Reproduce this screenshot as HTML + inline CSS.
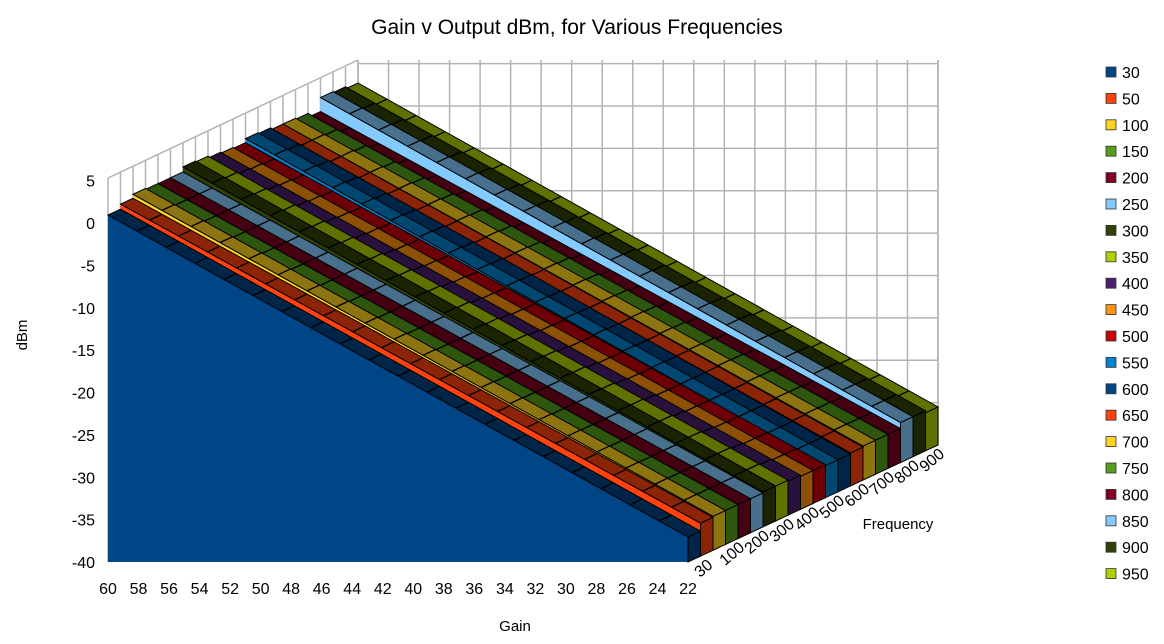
<!DOCTYPE html>
<html><head><meta charset="utf-8"><style>
body{margin:0;background:#fff;}
svg{display:block;font-family:"Liberation Sans",sans-serif;}
</style></head><body>
<svg id="s" width="1164" height="644" xmlns="http://www.w3.org/2000/svg"></svg>
<script>
const s=document.getElementById('s');
let h='';
const DX=12.5,DY=-5.85,X0=108,XR=688,YB=562;
const cols=['#004586','#ff420e','#ffd320','#579d1c','#7e0021','#83caff','#314004','#aecf00','#4b1f6f','#ff950e','#c5000b','#0084d1','#004586','#ff420e','#ffd320','#579d1c','#7e0021','#83caff','#314004','#aecf00'];
const names=[30,50,100,150,200,250,300,350,400,450,500,550,600,650,700,750,800,850,900,950];
const offL=[0,5,9,8,8,8,13,12,10,9,8,12,11,9,9,8,4,18,17,15];
const offR=[0,8,9,9,9,9,10,10,9,8,8,7,7,8,9,9,9,15,15,13];
function dark(c,f){let n=parseInt(c.slice(1),16);let r=(n>>16)&255,g=(n>>8)&255,b=n&255;return `rgb(${r*f|0},${g*f|0},${b*f|0})`;}
// walls
const g='#b3b3b3';
const BX=X0+20*DX, BY=DY*20; // back offset
// back wall
for(let k=0;k<=19;k++){let x=BX+k*(XR-X0)/19;h+=`<line x1="${x}" y1="60" x2="${x}" y2="${YB+BY}" stroke="${g}" stroke-width="1.5"/>`;}
for(let v=5;v>=-40;v-=5){let y=223-v*8.475+BY;if(y<58)y=60;h+=`<line x1="${BX}" y1="${y}" x2="${BX+XR-X0}" y2="${y}" stroke="${g}" stroke-width="1.5"/>`;}
// left wall
for(let k=0;k<=20;k++){let x=X0+k*DX;h+=`<line x1="${x}" y1="${178+k*DY}" x2="${x}" y2="${YB+k*DY}" stroke="${g}" stroke-width="1.5"/>`;}
h+=`<line x1="${X0}" y1="178" x2="${BX}" y2="60" stroke="${g}" stroke-width="1.5"/>`;
h+=`<line x1="${BX+XR-X0}" y1="60" x2="${BX+XR-X0}" y2="${YB+BY}" stroke="${g}" stroke-width="1.5"/>`;
// bars back to front
for(let i=19;i>=0;i--){
 const c=cols[i];const xl=X0+i*DX,xr=XR+i*DX,yb=YB+i*DY;
 const yl=215+i*DY-offL[i],yr=537+i*DY-offR[i];
 const tc=dark(c,0.55),sc=dark(c,0.8);
 h+=`<polygon points="${xr},${yr} ${xr+DX},${yr+DY} ${xr+DX},${yb+DY} ${xr},${yb}" fill="${tc}" stroke="#000" stroke-width="1"/>`;
 h+=`<polygon points="${xl},${yl} ${xr},${yr} ${xr},${yb} ${xl},${yb}" fill="${c}"/>`;
 // segment lines on front face
 h+=`<polygon points="${xl},${yl} ${xr},${yr} ${xr+DX},${yr+DY} ${xl+DX},${yl+DY}" fill="${tc}" stroke="#000" stroke-width="1"/>`;
 for(let k=1;k<20;k++){let t=k/20,x=xl+(xr-xl)*t,y=yl+(yr-yl)*t;h+=`<line x1="${x}" y1="${y}" x2="${x+DX}" y2="${y+DY}" stroke="#000" stroke-width="1.3"/>`;}
 h+=`<line x1="${xr}" y1="${yr}" x2="${xr}" y2="${yb}" stroke="#000" stroke-width="1"/>`;
 h+=`<line x1="${xl}" y1="${yl}" x2="${xr}" y2="${yr}" stroke="#000" stroke-width="0.8"/>`;
}
// axis labels
for(let v=5;v>=-40;v-=5){h+=`<text x="95" y="${223-v*8.475+6}" font-size="16" text-anchor="end">${v}</text>`;}
for(let k=0;k<20;k++){h+=`<text x="${X0+k*(XR-X0)/19}" y="594" font-size="16" text-anchor="middle">${60-2*k}</text>`;}
const fl=[30,100,200,300,400,500,600,700,800,900];
fl.forEach((f,j)=>{let i=j*2;let x=700+i*DX,y=578+i*DY;h+=`<text x="${x}" y="${y}" font-size="16" transform="rotate(-40 ${x} ${y})">${f}</text>`;});
h+=`<text x="577" y="34" font-size="21" text-anchor="middle">Gain v Output dBm, for Various Frequencies</text>`;
h+=`<text x="27" y="335" font-size="15" text-anchor="middle" transform="rotate(-90 27 335)">dBm</text>`;
h+=`<text x="515" y="631" font-size="15" text-anchor="middle">Gain</text>`;
h+=`<text x="898" y="529" font-size="15" text-anchor="middle">Frequency</text>`;
// legend
names.forEach((n,i)=>{let y=72+i*26.4;h+=`<rect x="1106" y="${y-5}" width="10" height="10" fill="${cols[i]}" stroke="#333" stroke-width="0.8"/><text x="1122" y="${y+6}" font-size="16">${n}</text>`;});
s.innerHTML=h;
</script>
</body></html>
